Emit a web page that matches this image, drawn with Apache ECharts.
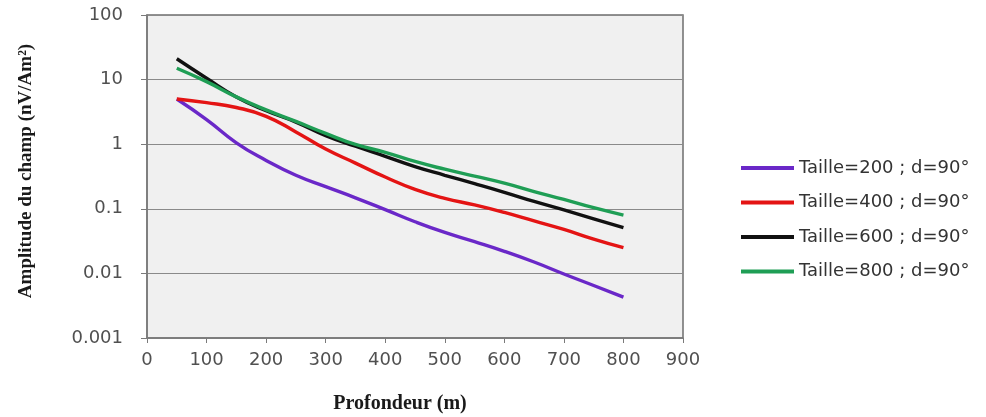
<!DOCTYPE html>
<html>
<head>
<meta charset="utf-8">
<script src="https://cdn.jsdelivr.net/npm/echarts@6/dist/echarts.min.js"></script>
<style>
  html, body { margin: 0; padding: 0; background: #ffffff; }
  #chart { width: 986px; height: 417px; }
</style>
</head>
<body>
<div id="chart"></div>
<script>
// Depth (m) at which the field amplitude is sampled
const depth = [50, 100, 150, 200, 250, 300, 350, 400, 450, 500, 550, 600, 650, 700, 750, 800];

// Field amplitude (nV/Am²) per loop size
const taille200 = [5.0, 2.4, 1.05, 0.56, 0.33, 0.22, 0.148, 0.097, 0.063, 0.043, 0.031, 0.022, 0.015, 0.0098, 0.0065, 0.0043];
const taille400 = [5.0, 4.4, 3.7, 2.7, 1.55, 0.84, 0.51, 0.31, 0.20, 0.145, 0.115, 0.088, 0.065, 0.048, 0.034, 0.025];
const taille600 = [21, 10.5, 5.4, 3.3, 2.2, 1.36, 0.93, 0.65, 0.45, 0.33, 0.245, 0.18, 0.13, 0.096, 0.07, 0.051];
const taille800 = [15, 9.3, 5.4, 3.4, 2.25, 1.47, 0.99, 0.75, 0.54, 0.41, 0.32, 0.25, 0.185, 0.14, 0.104, 0.08];

const seriesNames = ['Taille=200 ; d=90°', 'Taille=400 ; d=90°', 'Taille=600 ; d=90°', 'Taille=800 ; d=90°'];
const seriesColors = ['#6a28c8', '#e41414', '#111111', '#1f9e55'];
const yTickLabels = ['0.001', '0.01', '0.1', '1', '10', '100'];

const pairs = arr => depth.map((d, i) => [d, arr[i]]);
const values = [taille200, taille400, taille600, taille800];

const chart = echarts.init(document.getElementById('chart'), null, { renderer: 'canvas' });

chart.setOption({
  animation: false,
  backgroundColor: '#ffffff',
  grid: {
    left: 147, top: 15, width: 536, height: 323,
    show: true, backgroundColor: '#f0f0f0', borderColor: '#6e6e6e', borderWidth: 1.5
  },
  legend: {
    orient: 'vertical',
    left: 736, top: 153,
    itemWidth: 53, itemHeight: 4, itemGap: 14.5,
    icon: 'rect',
    textStyle: { fontFamily: 'DejaVu Sans', fontSize: 18, color: '#333333', lineHeight: 20 },
    data: seriesNames
  },
  xAxis: {
    type: 'value', min: 0, max: 900, interval: 100,
    axisLine: { show: true, lineStyle: { color: '#7a7a7a', width: 1.5 } },
    axisTick: { show: true, length: 5, lineStyle: { color: '#7a7a7a' } },
    axisLabel: { margin: 13, fontFamily: 'DejaVu Sans', fontSize: 18, color: '#505050' },
    splitLine: { show: false }
  },
  yAxis: {
    type: 'log', logBase: 10, min: 0.001, max: 100,
    axisLine: { show: true, lineStyle: { color: '#7a7a7a', width: 1.5 } },
    axisTick: { show: true, length: 6, lineStyle: { color: '#7a7a7a' } },
    axisLabel: {
      margin: 24, fontFamily: 'DejaVu Sans', fontSize: 18, color: '#505050',
      formatter: v => yTickLabels[Math.round(Math.log10(v)) + 3]
    },
    splitLine: { show: true, lineStyle: { color: '#8a8a8a', width: 1.2 } }
  },
  graphic: [
    {
      type: 'text', x: 400, y: 404,
      style: {
        text: 'Profondeur (m)', x: 0, y: 0,
        font: 'bold 20px "Liberation Serif"', fill: '#1a1a1a',
        textAlign: 'center', textVerticalAlign: 'middle'
      }
    },
    {
      type: 'text', x: 26, y: 171, rotation: Math.PI / 2,
      style: {
        text: 'Amplitude du champ (nV/Am²)', x: 0, y: 0,
        font: 'bold 19px "Liberation Serif"', fill: '#1a1a1a',
        textAlign: 'center', textVerticalAlign: 'middle'
      }
    }
  ],
  series: values.map((arr, i) => ({
    name: seriesNames[i],
    type: 'line',
    data: pairs(arr),
    smooth: 0.5,
    showSymbol: false,
    symbol: 'none',
    lineStyle: { color: seriesColors[i], width: 3.4 },
    itemStyle: { color: seriesColors[i] },
    z: 2 + i
  }))
});
</script>
</body>
</html>
